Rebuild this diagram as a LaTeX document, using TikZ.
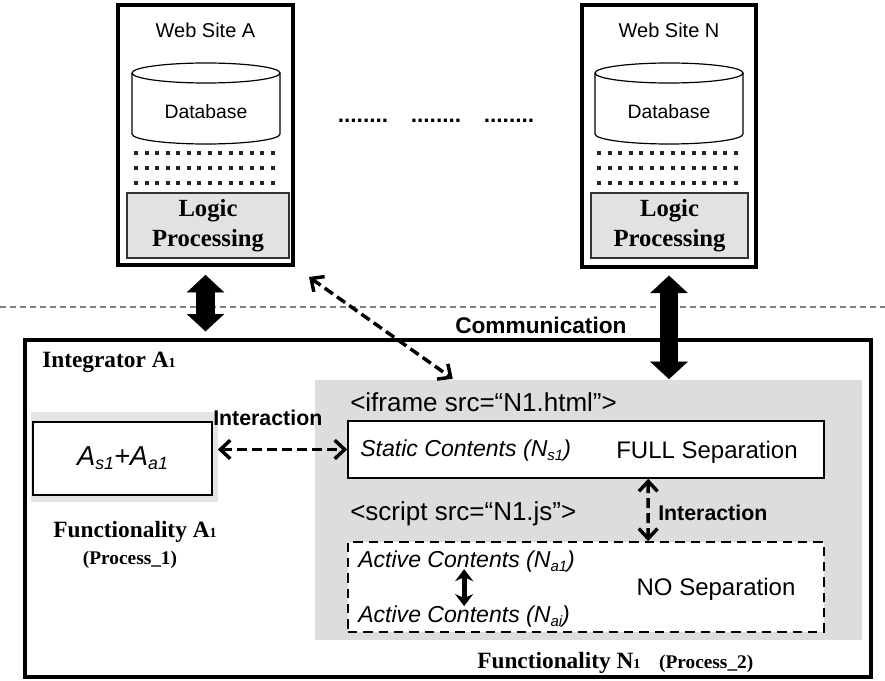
\documentclass[tikz,border=0pt]{standalone}
\usepackage{fontspec}
\setmainfont{Liberation Serif}
\setsansfont{Liberation Sans}
\usetikzlibrary{arrows.meta,fit,calc}
\definecolor{grayN}{RGB}{221,221,221}
\definecolor{grayA}{RGB}{228,228,228}
\definecolor{logicgray}{RGB}{226,226,226}
\newcommand\lsub[1]{\raisebox{-0.15em}{\scalebox{0.65}{#1}}}
\newcommand\ssub[1]{\scalebox{0.6}{#1}}
\begin{document}
\begin{tikzpicture}[x=0.75pt,y=-0.75pt,
  frame/.style={inner sep=0pt,draw,line width=3pt},
  sitelab/.style={font=\sffamily\fontsize{15}{18}\selectfont},
  dblab/.style={font=\sffamily\fontsize{14.5}{17}\selectfont},
  logic/.style={font=\rmfamily\bfseries\fontsize{18.5}{22.5}\selectfont,align=center},
  dotstxt/.style={font=\sffamily\bfseries\fontsize{17}{20}\selectfont,anchor=base,inner sep=0pt},
  plain/.style={font=\sffamily\fontsize{18}{21}\selectfont,inner sep=0pt},
  tagtxt/.style={font=\sffamily\fontsize{19.5}{23}\selectfont,inner sep=0pt},
  ital/.style={font=\sffamily\itshape\fontsize{17.3}{20}\selectfont,inner sep=0pt},
  boldsans/.style={font=\sffamily\bfseries\fontsize{16}{19}\selectfont,inner sep=0pt},
  serifbold/.style={font=\rmfamily\bfseries\fontsize{17.5}{21}\selectfont,inner sep=0pt},
  procfont/.style={font=\rmfamily\bfseries\fontsize{14.5}{17}\selectfont,inner sep=0pt},
  dotrow/.style={line width=3pt,black!85,dash pattern=on 3pt off 4.9pt},
  bigarrow/.style={line width=14pt,
    {Triangle[length=13pt,width=28pt,line width=0.01pt]}-{Triangle[length=13pt,width=28pt,line width=0.01pt]}},
  dasharrow/.style={line width=2.6pt,dash pattern=on 7.5pt off 3.75pt,
    {Straight Barb[length=7.5pt,width=14pt]}-{Straight Barb[length=7.5pt,width=14pt]}},
  smallarrow/.style={line width=3.8pt,
    {Stealth[length=9pt,width=13.5pt]}-{Stealth[length=9pt,width=13.5pt]}}
]
\useasboundingbox (0,0) rectangle (885,681);

% ---------- Web Site A ----------
\node[frame,fit={(118,5) (293,265)}] (siteA) {};
\node[sitelab] (labA) at (205.5,30) {Web Site A};
\draw[fill=white,line width=0.9pt] (132,73) -- (132,134)
  arc[start angle=180,end angle=360,x radius=55.5pt,y radius=7.5pt] -- (280,73);
\draw[line width=0.9pt] (206,73) ellipse[x radius=55.5pt,y radius=7.5pt];
\node[dblab] (dbA) at (206,112) {Database};
\foreach \yy in {153,168,183}{
  \draw[dotrow] (134,\yy) -- (281,\yy);
}
\node[inner sep=0pt,draw=black!80,line width=0.8pt,fill=logicgray,fit={(127,193) (289,258)}] (logA) {};
\node[logic] (logAt) at (logA.center) {Logic\\Processing};

% ---------- Web Site N ----------
\node[frame,fit={(582,5) (756,267)}] (siteN) {};
\node[sitelab] (labN) at (669,30) {Web Site N};
\draw[fill=white,line width=0.9pt] (595,73) -- (595,134)
  arc[start angle=180,end angle=360,x radius=55.5pt,y radius=7.5pt] -- (743,73);
\draw[line width=0.9pt] (669,73) ellipse[x radius=55.5pt,y radius=7.5pt];
\node[dblab] (dbN) at (669,112) {Database};
\foreach \yy in {153,168,183}{
  \draw[dotrow] (597,\yy) -- (744,\yy);
}
\node[inner sep=0pt,draw=black!80,line width=0.8pt,fill=logicgray,fit={(591,193) (748,258)}] (logN) {};
\node[logic] (logNt) at (logN.center) {Logic\\Processing};

% ---------- dots between sites ----------
\node[dotstxt] (d1) at (363,123) {........};
\node[dotstxt] (d2) at (436,123) {........};
\node[dotstxt] (d3) at (509,123) {........};

% ---------- separator ----------
\draw[gray,line width=0.8pt,dash pattern=on 4.5pt off 3pt] (0,307) -- (885,307);

% ---------- Integrator ----------
\node[frame,fit={(25,340) (871,677)}] (integ) {};
\node[serifbold,anchor=west] (integlab) at (42,362) {Integrator A\ssub{1}};

\node[inner sep=0pt,fill=grayN,fit={(315,380) (862,640)}] (grayR) {};
\node[inner sep=0pt,fill=grayA,fit={(31,412) (218,502)}] (grayL) {};
\node[inner sep=0pt,draw,fill=white,line width=1.2pt,fit={(33,422) (212,495)}] (boxA) {};
\node[font=\sffamily\itshape\fontsize{20.5}{24}\selectfont] (boxAt) at (boxA.center) {A\lsub{s1}+A\lsub{a1}};
\node[boldsans,anchor=west] (inter1) at (213,418) {Interaction};

\node[serifbold] (funcA) at (135,532) {Functionality A\ssub{1}};
\node[procfont] (procA) at (130,560) {(Process\_1)};

\node[tagtxt,anchor=west] (iframe) at (350,402) {<iframe src=“N1.html”>};
\node[inner sep=0pt,draw,fill=white,line width=1.2pt,fit={(348,421) (824,478)}] (static) {};
\node[ital,anchor=west] (statict) at (360,451) {Static Contents (N\lsub{s1})};
\node[plain] (fullsep) at (707,452) {FULL Separation};

\node[tagtxt,anchor=west] (script) at (350,514) {<script src=“N1.js”>};
\node[boldsans,anchor=west] (inter2) at (658,513) {Interaction};

\node[inner sep=0pt,draw,fill=white,line width=1.3pt,dash pattern=on 7pt off 4.5pt,fit={(348,542) (824,632)}] (active) {};
\node[ital,anchor=west] (na1) at (358,562) {Active Contents (N\lsub{a1})};
\node[ital,anchor=west] (nai) at (358,617) {Active Contents (N\lsub{ai})};
\node[plain] (nosep) at (716,589) {NO Separation};

\node[serifbold,anchor=west] (funcN) at (477,663) {Functionality N\ssub{1}\hspace{14pt}{\fontsize{14.5}{17}\selectfont(Process\_2)}};

\node[font=\sffamily\bfseries\fontsize{17}{20}\selectfont,anchor=west,inner sep=0pt] (comm) at (455,325) {Communication};

% ---------- connectors ----------
\draw[bigarrow] ([yshift=-6pt]siteA.south) -- ([yshift=5pt]siteA.south |- integ.north);
\draw[bigarrow] ([yshift=-5pt]siteN.south) -- ([yshift=0.5pt]siteN.south |- grayR.north);
\draw[dasharrow] ($(siteA.south east)+(14,10)$) -- ($(grayR.north west)+(138,-1)$);
\draw[dasharrow] ([xshift=3.75pt]boxA.east |- static.west) -- (static.west);
\draw[dasharrow] ($(static.south west)+(301,0)$) -- ($(active.north west)+(301,0)$);
\draw[smallarrow] ($(active.north west)+(117,28)$) -- ($(active.north west)+(117,65)$);
\end{tikzpicture}
\end{document}
